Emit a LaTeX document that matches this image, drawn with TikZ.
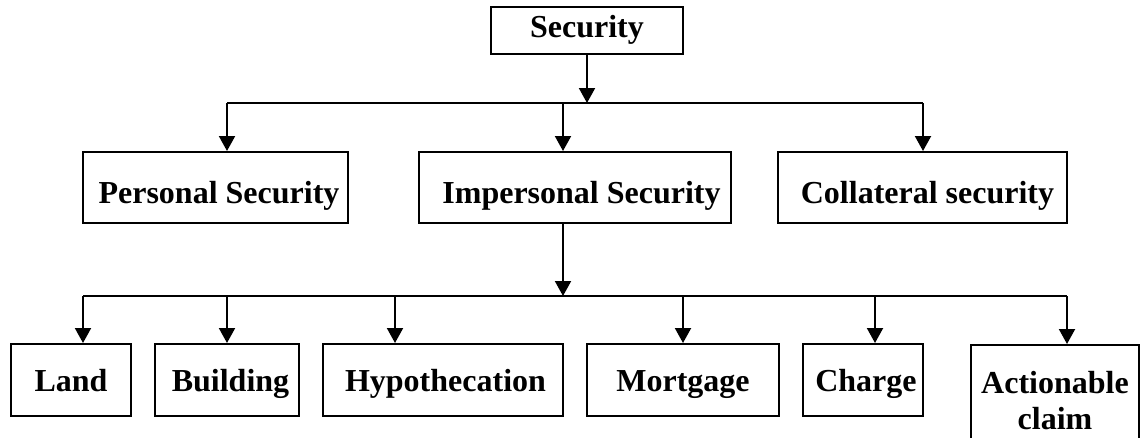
\documentclass[tikz,border=0pt]{standalone}
\usepackage{fontspec}
\setmainfont{Liberation Serif}
\usetikzlibrary{arrows.meta}
\begin{document}
\begin{tikzpicture}[x=1pt,y=-1pt,
  box/.style={draw, line width=2pt, inner sep=0pt, text depth=0pt,
    font=\fontsize{32}{36}\selectfont\bfseries},
  toprow/.style={box, minimum height=47pt, text height=14.4pt},
  midrow/.style={box, minimum height=71pt, text height=31pt},
  botrow/.style={box, minimum height=72pt, text height=23.4pt},
  conn/.style={line width=2pt},
  arr/.style={line width=2pt, -{Triangle[length=15pt,width=16pt]}}]
\useasboundingbox (0,0) rectangle (1141,437);
\clip (0,0) rectangle (1141,437);
% top
\node[toprow, minimum width=192pt] (sec) at (587,30.5) {Security};
% middle row
\node[midrow, minimum width=265pt] (ps) at (215.5,187.5) {\hspace*{7pt}Personal Security};
\node[midrow, minimum width=312pt] (is) at (575,187.5) {\hspace*{13pt}Impersonal Security};
\node[midrow, minimum width=289pt] (cs) at (922.5,187.5) {\hspace*{10pt}Collateral security};
% bottom row
\node[botrow, minimum width=120pt] (land) at (71,380) {Land};
\node[botrow, minimum width=144pt] (bld) at (227,380) {\hspace*{7pt}Building};
\node[botrow, minimum width=240pt] (hyp) at (443,380) {\hspace*{5pt}Hypothecation};
\node[botrow, minimum width=192pt] (mort) at (683,380) {Mortgage};
\node[botrow, minimum width=120pt] (chg) at (863,380) {\hspace*{6pt}Charge};
\node[box, anchor=north, minimum width=168pt, text height=84pt, text depth=19pt,
  align=center] (act) at (1055,344) {Actionable\\claim};
% top bus
\coordinate (tb) at (587,103);
\coordinate (t1) at (227,103);
\coordinate (t2) at (563,103);
\coordinate (t3) at (923,103);
\draw[arr] (sec.south) -- (tb);
\draw[conn] (t1) -- (t3);
\draw[arr] (t1) -- (t1 |- ps.north);
\draw[arr] (t2) -- (t2 |- is.north);
\draw[arr] (t3) -- (t3 |- cs.north);
% bottom bus
\coordinate (bs) at (563,223);
\coordinate (bb) at (563,296);
\coordinate (u1) at (83,296);
\coordinate (u2) at (227,296);
\coordinate (u3) at (395,296);
\coordinate (u4) at (683,296);
\coordinate (u5) at (875,296);
\coordinate (u6) at (1067,296);
\draw[arr] (bs |- is.south) -- (bb);
\draw[conn] (u1) -- (u6);
\draw[arr] (u1) -- (u1 |- land.north);
\draw[arr] (u2) -- (u2 |- bld.north);
\draw[arr] (u3) -- (u3 |- hyp.north);
\draw[arr] (u4) -- (u4 |- mort.north);
\draw[arr] (u5) -- (u5 |- chg.north);
\draw[arr] (u6) -- (u6 |- act.north);
\end{tikzpicture}
\end{document}
